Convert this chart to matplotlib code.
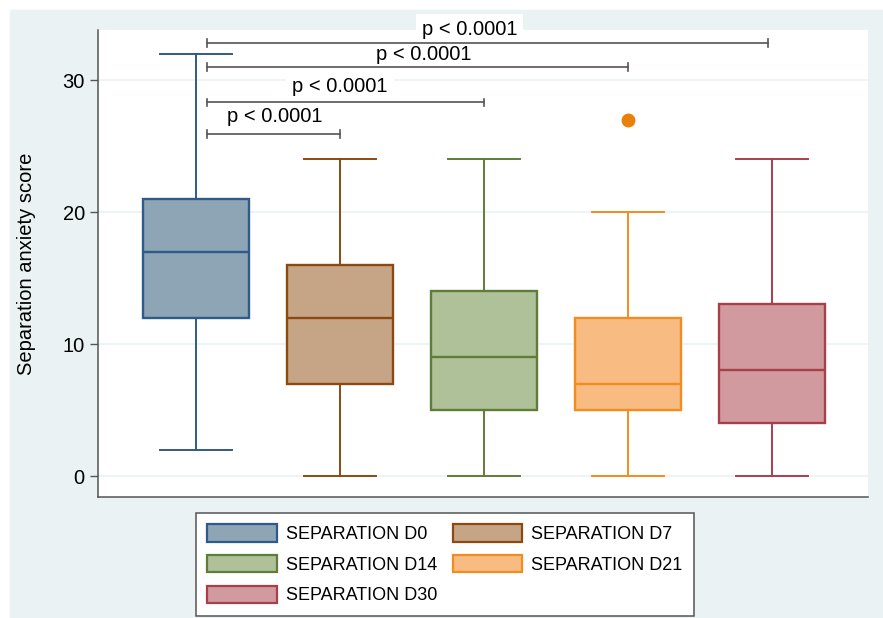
import matplotlib.pyplot as plt
from matplotlib.patches import Rectangle, Patch

plt.rcParams["font.family"] = ["Liberation Sans", "DejaVu Sans"]

# summary values
groups = ["SEPARATION D0", "SEPARATION D7", "SEPARATION D14",
          "SEPARATION D21", "SEPARATION D30"]
medians = [17, 12, 9, 7, 8]
q1 = [12, 7, 5, 5, 4]
q3 = [21, 16, 14, 12, 13]
whis_lo = [2, 0, 0, 0, 0]
whis_hi = [32, 24, 24, 20, 24]
outliers = [[], [], [], [27], []]

fills = ["#8ea5b5", "#c5a585", "#afc198", "#f8bb82", "#d19a9e"]
edges = ["#2f5a8a", "#8c4a12", "#5e7d38", "#f28c1f", "#a8404c"]

# comparison brackets, all starting from D0
bracket_start = 1.08
bracket_end = [2, 3, 4, 4.97]
bracket_y = [25.9, 28.3, 31.0, 32.8]
p_labels = ["p < 0.0001"] * 4
label_x = [1.55, 2.0, 2.58, 2.9]
label_y = [27.2, 29.5, 31.9, 33.8]

MINT = "#eaf2f3"
AXC = "#555555"
FS = 14.5

fig = plt.figure(figsize=(8.83, 6.18), dpi=100, facecolor="white")
fig.patches.append(Rectangle((10 / 883, 0), 873 / 883, 608 / 618,
                             transform=fig.transFigure, color=MINT, zorder=-5))
ax = fig.add_axes([98 / 883, 121 / 618, 770 / 883, 467 / 618])
ax.set_facecolor("white")

stats = []
for i in range(len(groups)):
    stats.append(dict(med=medians[i], q1=q1[i], q3=q3[i], whislo=whis_lo[i],
                      whishi=whis_hi[i], fliers=outliers[i], label=groups[i]))

pos = list(range(1, len(groups) + 1))
bp = ax.bxp(stats, positions=pos, widths=0.74, capwidths=0.5,
            patch_artist=True, showfliers=True, manage_ticks=False)
for i in range(len(groups)):
    bp["boxes"][i].set(facecolor=fills[i], edgecolor=edges[i], linewidth=1.7, zorder=3)
    bp["medians"][i].set(color=edges[i], linewidth=1.7, zorder=4)
    for ln in bp["whiskers"][2 * i:2 * i + 2] + bp["caps"][2 * i:2 * i + 2]:
        ln.set(color=edges[i], linewidth=1.4, zorder=3)
    bp["fliers"][i].set(marker="o", markerfacecolor="#e8800a",
                        markeredgecolor="#e8800a", markersize=9)

for x1, yb in zip(bracket_end, bracket_y):
    ax.plot([bracket_start, x1], [yb, yb], color=AXC, lw=1.2, zorder=7, clip_on=False)
    for xe in (bracket_start, x1):
        ax.plot([xe, xe], [yb - 0.3, yb + 0.3], color=AXC, lw=1.2, zorder=7, clip_on=False)
for xl, yl, lab in zip(label_x, label_y, p_labels):
    ax.text(xl, yl, lab, ha="center", va="center", fontsize=FS, zorder=6,
            clip_on=False, bbox=dict(boxstyle="square,pad=0.3", fc="white", ec="none"))

ax.set_xlim(0.32, 5.667)
ax.set_ylim(-1.59, 33.79)
ax.set_yticks([0, 10, 20, 30])
ax.set_xticks([])
ax.yaxis.grid(True, color=MINT, lw=1.2, zorder=0)
ax.set_axisbelow(True)
ax.tick_params(axis="y", labelsize=FS, length=5.5, width=1, color=AXC, pad=4)
for s in ("top", "right"):
    ax.spines[s].set_visible(False)
for s in ("left", "bottom"):
    ax.spines[s].set_color(AXC)
    ax.spines[s].set_linewidth(1.1)
ax.set_ylabel("Separation anxiety score", fontsize=FS, labelpad=19)

handles = [Patch(facecolor=fills[i], edgecolor=edges[i], linewidth=1.6, label=groups[i])
           for i in range(len(groups))]
order = [0, 2, 4, 1, 3]
leg = fig.legend([handles[i] for i in order], [groups[i] for i in order],
                 ncol=2, loc="upper center", bbox_to_anchor=(445 / 883, 1 - 513 / 618),
                 fontsize=13, frameon=True, fancybox=False, edgecolor=AXC,
                 facecolor="white", framealpha=1, handlelength=3.85, handleheight=1.1,
                 handletextpad=0.5, columnspacing=0.85, labelspacing=0.66,
                 borderpad=0.62, borderaxespad=0)
leg.get_frame().set_linewidth(1.1)

plt.savefig("out.png", dpi=100, facecolor="white")
plt.close()
